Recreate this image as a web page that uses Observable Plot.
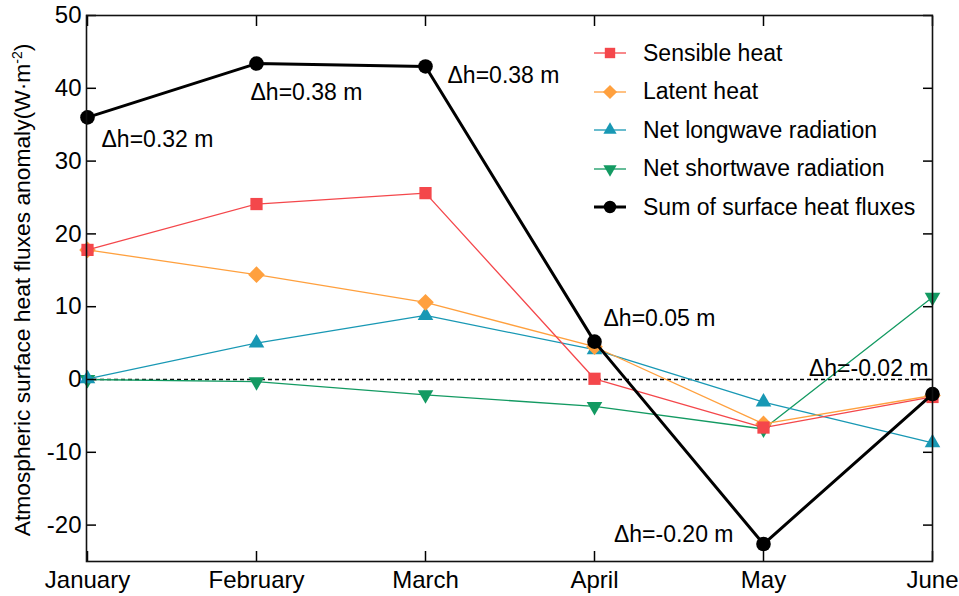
<!DOCTYPE html>
<html><head><meta charset="utf-8">
<script src="https://cdn.jsdelivr.net/npm/d3@7"></script>
<script src="https://cdn.jsdelivr.net/npm/@observablehq/plot@0.6"></script>
<style>
body{margin:0;background:#fff;}
#wrap{position:relative;width:959px;height:596px;font-family:"Liberation Sans",Arial,sans-serif;color:#000;}
#legend{position:absolute;left:593px;top:34px;font-size:23px;}
.row{display:flex;align-items:center;height:38.5px;white-space:nowrap;}
.row svg{width:34px;height:22px;margin-right:16px;flex:none;}
#ytitle{position:absolute;left:22px;top:290px;transform:translate(-50%,-50%) rotate(-90deg);white-space:nowrap;font-size:22.8px;}
#ytitle sup{font-size:14px;vertical-align:0.55em;line-height:0;}
</style></head><body><div id="wrap"></div>
<script>
// ---- data ----
const months = ["January","February","March","April","May","June"];
const sensible  = [17.8, 24.1, 25.6, 0.1, -6.6, -2.4];
const latent    = [17.8, 14.4, 10.6, 4.5, -6.1, -2.2];
const longwave  = [0.1, 5.0, 8.8, 4.1, -3.1, -8.7];
const shortwave = [0.0, -0.3, -2.1, -3.7, -6.8, 11.3];
const total     = [36.0, 43.4, 43.0, 5.2, -22.6, -2.0];
const dhLabels  = ["Δh=0.32 m","Δh=0.38 m","Δh=0.38 m","Δh=0.05 m","Δh=-0.20 m","Δh=-0.02 m"];
const seriesNames = ["Sensible heat","Latent heat","Net longwave radiation","Net shortwave radiation","Sum of surface heat fluxes"];
const yTicks = [-20,-10,0,10,20,30,40,50];

// ---- styles ----
const styles = [
  {values: sensible,  color:"#f4474b", symbol:"square",   r:6.9, rotate:0,   sw:1.3},
  {values: latent,    color:"#ffa03e", symbol:"diamond2", r:7.5, rotate:0,   sw:1.3},
  {values: longwave,  color:"#1898b4", symbol:"triangle", r:5.8, rotate:0,   sw:1.3},
  {values: shortwave, color:"#139a62", symbol:"triangle", r:5.8, rotate:180, sw:1.3},
  {values: total,     color:"#000000", symbol:"circle",   r:7.3, rotate:0,   sw:3}
];
const drawOrder = [3,2,1,0,4];
const annLayout = [
  {dx:14, dy:22, anchor:"start"},
  {dx:-6, dy:29, anchor:"start"},
  {dx:22, dy:9, anchor:"start"},
  {dx:9, dy:-23, anchor:"start"},
  {dx:-30, dy:-9, anchor:"end"},
  {dx:-4, dy:-25, anchor:"end"}
];

const marks = [
  Plot.ruleY([0], {stroke:"#000", strokeWidth:1.3, strokeDasharray:"4,3"})
];
for (const k of drawOrder) {
  const s = styles[k];
  const data = months.map((m,i)=>({month:m, value:s.values[i]}));
  marks.push(Plot.line(data, {x:"month", y:"value", stroke:s.color, strokeWidth:s.sw}));
  marks.push(Plot.dot(data, {x:"month", y:"value", symbol:s.symbol, r:s.r, fill:s.color, stroke:"none", rotate:s.rotate}));
}
months.forEach((m,i)=>{
  const a = annLayout[i];
  marks.push(Plot.text([{month:m, value:total[i], label:dhLabels[i]}], {
    x:"month", y:"value", text:"label", dx:a.dx, dy:a.dy, textAnchor:a.anchor, fontSize:23, fill:"#000"
  }));
});
marks.push(
  Plot.axisY(yTicks, {anchor:"left", tickSize:0, tickPadding:5, fontSize:24, label:null, stroke:"none", tickFormat:d=>String(d)}),
  Plot.axisY(yTicks, {anchor:"left", tickSize:10, dx:10, fill:"none", label:null, strokeWidth:1.5}),
  Plot.axisY(yTicks, {anchor:"right", tickSize:10, dx:-10, fill:"none", label:null, strokeWidth:1.5}),
  Plot.axisX(months, {anchor:"bottom", tickSize:0, tickPadding:9, fontSize:24, label:null, stroke:"none"}),
  Plot.axisX(months, {anchor:"bottom", tickSize:10, dy:-10, fill:"none", label:null, strokeWidth:1.5}),
  Plot.axisX(months, {anchor:"top", tickSize:10, dy:10, fill:"none", label:null, strokeWidth:1.5}),
  Plot.frame({stroke:"#111", strokeWidth:1.6})
);

const chart = Plot.plot({
  width:959, height:596,
  marginLeft:86, marginRight:27, marginTop:15, marginBottom:35,
  x:{type:"point", domain:months, padding:0},
  y:{domain:[-25,50]},
  style:{fontFamily:"'Liberation Sans', Arial, sans-serif", fontSize:"23px", color:"#000", background:"#fff", overflow:"visible"},
  marks
});
const wrap = document.getElementById("wrap");
wrap.appendChild(chart);

// y title
const yt = document.createElement("div");
yt.id = "ytitle";
yt.innerHTML = "Atmospheric surface heat fluxes anomaly(W·m<sup>-2</sup>)";
wrap.appendChild(yt);

// legend
const legend = document.createElement("div");
legend.id = "legend";
seriesNames.forEach((name,k)=>{
  const s = styles[k];
  const row = document.createElement("div");
  row.className = "row";
  const sym = {square:d3.symbolSquare, diamond2:d3.symbolDiamond2, triangle:d3.symbolTriangle, circle:d3.symbolCircle}[s.symbol];
  const size = Math.PI * Math.pow(s.r*0.85, 2);
  const path = d3.symbol(sym, size)();
  row.innerHTML = `<svg viewBox="0 0 34 22"><line x1="1" x2="33" y1="11" y2="11" stroke="${s.color}" stroke-width="${k===4?3:1.3}"/><path d="${path}" fill="${s.color}" transform="translate(17,11) rotate(${s.rotate})"/></svg><span>${name}</span>`;
  legend.appendChild(row);
});
wrap.appendChild(legend);
</script>
</body></html>
